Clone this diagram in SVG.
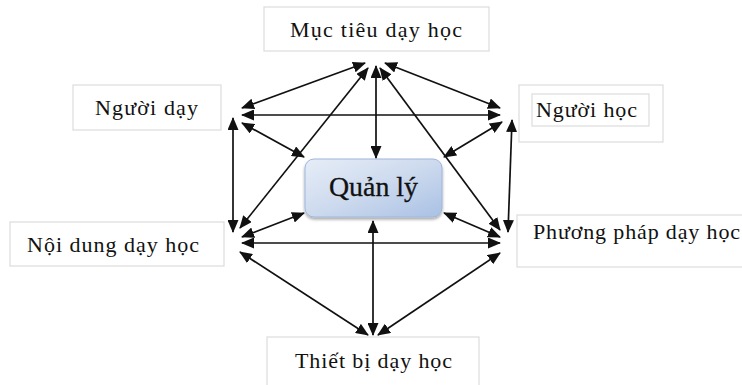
<svg xmlns="http://www.w3.org/2000/svg" width="742" height="385" viewBox="0 0 742 385">
<style>
.box{fill:#fff;stroke:#dcdcdc;stroke-width:1.2}
.t{font-family:"Liberation Serif","Times New Roman",serif;font-size:22px;fill:#111}
.c line{stroke:#111;stroke-width:1.7;marker-start:url(#ah);marker-end:url(#ah)}
</style>
<defs>
<marker id="ah" markerUnits="userSpaceOnUse" markerWidth="13" markerHeight="11" refX="12" refY="5.5" orient="auto-start-reverse">
<path d="M0,0 L13,5.5 L0,11 z" fill="#111"/>
</marker>
<linearGradient id="g" x1="0" y1="0" x2="1" y2="1">
<stop offset="0" stop-color="#e6edf7"/>
<stop offset="0.5" stop-color="#cddaee"/>
<stop offset="1" stop-color="#a9c1e4"/>
</linearGradient>
<filter id="sh" x="-10%" y="-10%" width="120%" height="130%">
<feGaussianBlur in="SourceAlpha" stdDeviation="1.5"/>
<feOffset dx="0" dy="2"/>
<feComponentTransfer><feFuncA type="linear" slope="0.35"/></feComponentTransfer>
<feMerge><feMergeNode/><feMergeNode in="SourceGraphic"/></feMerge>
</filter>
</defs>
<rect width="742" height="385" fill="#fff"/>
<g id="muc-tieu">
<rect class="box" x="264" y="7" width="225" height="44"/>
<text class="t" x="290" y="37" textLength="172" lengthAdjust="spacing">Mục tiêu dạy học</text>
</g>
<g id="nguoi-day">
<rect class="box" x="73" y="85" width="148" height="45"/>
<text class="t" x="95" y="115" textLength="103" lengthAdjust="spacing">Người dạy</text>
</g>
<g id="nguoi-hoc">
<rect class="box" x="519" y="85" width="144" height="57" stroke-width="2"/>
<rect class="box" x="532" y="94" width="117" height="32"/>
<text class="t" x="536" y="117" textLength="101" lengthAdjust="spacing">Người học</text>
</g>
<g id="noi-dung">
<rect class="box" x="10" y="222" width="214" height="44"/>
<text class="t" x="27" y="252" textLength="172" lengthAdjust="spacing">Nội dung dạy học</text>
</g>
<g id="phuong-phap">
<rect class="box" x="517" y="215" width="240" height="52"/>
<text class="t" x="533" y="239" textLength="207" lengthAdjust="spacing">Phương pháp dạy học</text>
</g>
<g id="thiet-bi">
<rect class="box" x="267" y="337" width="212" height="60"/>
<text class="t" x="295" y="368" textLength="157" lengthAdjust="spacing">Thiết bị dạy học</text>
</g>
<g id="quan-ly">
<rect x="305" y="159" width="137" height="58" rx="9" fill="url(#g)" stroke="#9fb6da" stroke-width="1" filter="url(#sh)"/>
<text x="329" y="196" font-family="Liberation Serif, Times New Roman, serif" font-size="28" fill="#111" stroke="#111" stroke-width="0.3" textLength="89" lengthAdjust="spacingAndGlyphs">Quản lý</text>
</g>
<g class="c" id="connectors">
<line x1="365" y1="63" x2="242" y2="108"/>
<line x1="385" y1="63" x2="500" y2="108"/>
<line x1="368" y1="68" x2="240" y2="228"/>
<line x1="380" y1="68" x2="500" y2="230"/>
<line x1="376" y1="66" x2="376" y2="158"/>
<line x1="242" y1="115" x2="500" y2="115"/>
<line x1="233" y1="118" x2="233" y2="232"/>
<line x1="242" y1="123" x2="304" y2="157"/>
<line x1="512" y1="120" x2="508" y2="232"/>
<line x1="502" y1="122" x2="444" y2="157"/>
<line x1="242" y1="243" x2="500" y2="243"/>
<line x1="242" y1="237" x2="304" y2="213"/>
<line x1="500" y1="237" x2="444" y2="213"/>
<line x1="240" y1="252" x2="368" y2="335"/>
<line x1="500" y1="253" x2="378" y2="335"/>
<line x1="373" y1="335" x2="373" y2="221"/>
</g>
</svg>
